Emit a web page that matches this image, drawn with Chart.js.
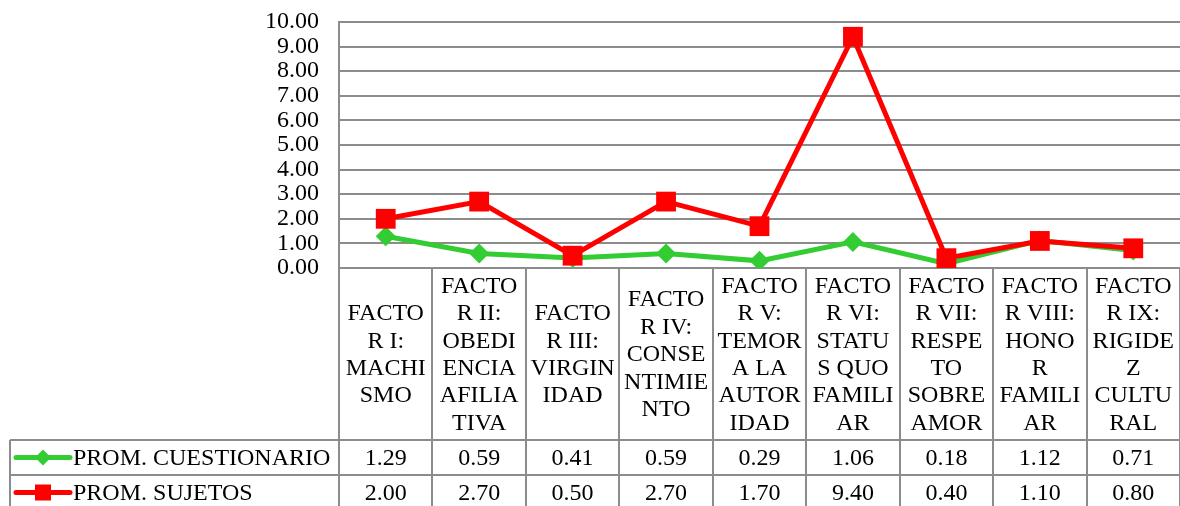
<!DOCTYPE html>
<html>
<head>
<meta charset="utf-8">
<script src="https://cdn.jsdelivr.net/npm/chart.js@4/dist/chart.umd.min.js"></script>
<style>
  body { margin: 0; background: #fff; }
</style>
</head>
<body>
<canvas id="myChart" width="1180" height="506"></canvas>
<script>
// categories, wrapped the way the table shows them
const factores = [
  ["FACTO", "R I:", "MACHI", "SMO"],
  ["FACTO", "R II:", "OBEDI", "ENCIA", "AFILIA", "TIVA"],
  ["FACTO", "R III:", "VIRGIN", "IDAD"],
  ["FACTO", "R IV:", "CONSE", "NTIMIE", "NTO"],
  ["FACTO", "R V:", "TEMOR", "A LA", "AUTOR", "IDAD"],
  ["FACTO", "R VI:", "STATU", "S QUO", "FAMILI", "AR"],
  ["FACTO", "R VII:", "RESPE", "TO", "SOBRE", "AMOR"],
  ["FACTO", "R VIII:", "HONO", "R", "FAMILI", "AR"],
  ["FACTO", "R IX:", "RIGIDE", "Z", "CULTU", "RAL"],
];
const promCuestionario = [1.29, 0.59, 0.41, 0.59, 0.29, 1.06, 0.18, 1.12, 0.71];
const promSujetos = [2.0, 2.7, 0.5, 2.7, 1.7, 9.4, 0.4, 1.1, 0.8];
const seriesNames = ["PROM. CUESTIONARIO", "PROM. SUJETOS"];

const green = "#33cc33";
const red = "#ff0000";
const gridColor = "#8c8c8c";
const font = "24px 'Liberation Serif', 'Times New Roman', serif";

// data table under the plot, drawn from the x scale
const dataTable = {
  id: "dataTable",
  afterDraw(chart) {
    const ctx = chart.ctx;
    const x = chart.scales.x;
    const area = chart.chartArea;
    const band = (area.right - area.left) / factores.length;
    const headBottom = 440;
    const row1Bottom = 475;
    const bottom = chart.height;
    const legendLeft = 10;

    ctx.save();
    ctx.strokeStyle = gridColor;
    ctx.lineWidth = 2;
    ctx.beginPath();
    for (let i = 0; i <= factores.length; i++) {
      let bx = Math.round(area.left + band * i);
      ctx.moveTo(bx, area.bottom);
      ctx.lineTo(bx, bottom);
    }
    ctx.moveTo(legendLeft, headBottom);
    ctx.lineTo(legendLeft, bottom);
    ctx.moveTo(legendLeft, headBottom);
    ctx.lineTo(area.right, headBottom);
    ctx.moveTo(legendLeft, row1Bottom);
    ctx.lineTo(area.right, row1Bottom);
    ctx.stroke();

    ctx.fillStyle = "#000";
    ctx.font = font;
    ctx.textAlign = "center";
    ctx.textBaseline = "middle";
    const lineH = 27.4;
    const headMid = (area.bottom + headBottom) / 2;
    factores.forEach((lines, i) => {
      const cx = x.getPixelForValue(i);
      const y0 = headMid - ((lines.length - 1) * lineH) / 2;
      lines.forEach((t, j) => ctx.fillText(t, cx, y0 + j * lineH + 1));
      ctx.fillText(promCuestionario[i].toFixed(2), cx, (headBottom + row1Bottom) / 2 + 1);
      ctx.fillText(promSujetos[i].toFixed(2), cx, (row1Bottom + bottom) / 2 + 3);
    });

    // legend keys
    const rows = [(headBottom + row1Bottom) / 2, (row1Bottom + bottom) / 2 + 2];
    const colors = [green, red];
    rows.forEach((ry, k) => {
      ctx.strokeStyle = colors[k];
      ctx.lineWidth = 5;
      ctx.lineCap = "round";
      ctx.beginPath();
      ctx.moveTo(16, ry);
      ctx.lineTo(70, ry);
      ctx.stroke();
      ctx.fillStyle = colors[k];
      if (k === 0) {
        ctx.beginPath();
        ctx.moveTo(43, ry - 8);
        ctx.lineTo(51, ry);
        ctx.lineTo(43, ry + 8);
        ctx.lineTo(35, ry);
        ctx.closePath();
        ctx.fill();
      } else {
        ctx.fillRect(35, ry - 8, 16, 16);
      }
      ctx.fillStyle = "#000";
      ctx.textAlign = "left";
      ctx.fillText(seriesNames[k], 73, ry + 1);
    });
    ctx.restore();
  },
};

new Chart("myChart", {
  type: "line",
  data: {
    labels: factores,
    datasets: [
      {
        label: seriesNames[0],
        data: promCuestionario,
        borderColor: green,
        backgroundColor: green,
        borderWidth: 5,
        pointStyle: "rectRot",
        pointRadius: 10,
        pointBorderWidth: 0,
        fill: false,
        order: 2,
      },
      {
        label: seriesNames[1],
        data: promSujetos,
        borderColor: red,
        backgroundColor: red,
        borderWidth: 5,
        pointStyle: "rect",
        pointRadius: 14,
        pointBorderWidth: 0,
        fill: false,
        order: 1,
      },
    ],
  },
  options: {
    responsive: false,
    animation: false,
    layout: { autoPadding: false, padding: { top: 22, right: 0, bottom: 238, left: 0 } },
    plugins: {
      legend: { display: false },
      tooltip: { enabled: false },
    },
    scales: {
      x: {
        display: false,
        offset: true,
      },
      y: {
        min: 0,
        max: 10,
        afterFit: (scale) => {
          scale.width = 339;
          scale.paddingTop = 0;
          scale.paddingBottom = 0;
        },
        ticks: {
          stepSize: 1,
          autoSkip: false,
          padding: 20,
          color: "#000",
          font: { family: "'Liberation Serif', 'Times New Roman', serif", size: 24 },
          callback: (v) => v.toFixed(2),
        },
        grid: { color: gridColor, lineWidth: 2, drawTicks: false },
        border: { color: gridColor, width: 2 },
      },
    },
  },
  plugins: [dataTable],
});
</script>
</body>
</html>
